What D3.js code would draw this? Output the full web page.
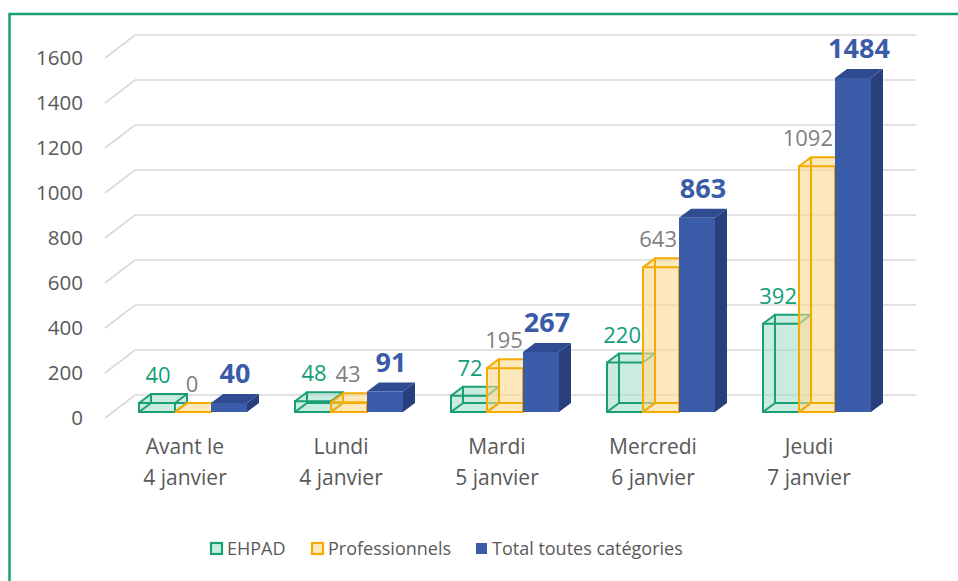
<!DOCTYPE html>
<html>
<head>
<meta charset="utf-8">
<script src="https://cdn.jsdelivr.net/npm/d3@7"></script>
<style>
  body { margin: 0; background: #fff; }
  svg { display: block; font-family: "Open Sans", "Noto Sans", sans-serif; }
</style>
</head>
<body>
<svg width="958" height="581"></svg>
<script>
// data
var categories = [["Avant le", "4 janvier"], ["Lundi", "4 janvier"], ["Mardi", "5 janvier"], ["Mercredi", "6 janvier"], ["Jeudi", "7 janvier"]];
var seriesNames = ["EHPAD", "Professionnels", "Total toutes catégories"];
var ehpad = [40, 48, 72, 220, 392];
var professionnels = [0, 43, 195, 643, 1092];
var total = [40, 91, 267, 863, 1484];
var yTicks = [0, 200, 400, 600, 800, 1000, 1200, 1400, 1600];

var values = [ehpad, professionnels, total];

var svg = d3.select("svg");

// outline of the frame (left + top only)
svg.append("path")
  .attr("d", "M9.5,581 L9.5,14 L958,14")
  .attr("fill", "none")
  .attr("stroke", "#17a078")
  .attr("stroke-width", 2.5);

// 3d projection helpers
var wallDx = 30, wallDy = -23;   // front plane -> back wall
var barDx = 12, barDy = -9;      // bar depth

var yFront = d3.scaleLinear().domain([0, 1600]).range([418, 58]); // axis plane
var yBar = d3.scaleLinear().domain([0, 1600]).range([412, 52]);   // bar front face

var x0 = d3.scaleBand().domain(d3.range(categories.length)).range([115, 895]);
var x1 = d3.scaleBand().domain(d3.range(seriesNames.length)).range([0, x0.bandwidth()]).paddingOuter(0.667);

// gridlines on back wall + diagonal on the left side
var grid = svg.append("g");
yTicks.forEach(function(t) {
  var yf = yFront(t);
  grid.append("path")
    .attr("d", "M105," + yf + " L" + (105 + wallDx) + "," + (yf + wallDy) + " L916," + (yf + wallDy))
    .attr("fill", "none")
    .attr("stroke", "#d9d9d9")
    .attr("stroke-width", 1.6);
});

// y axis labels
svg.append("g").selectAll("text")
  .data(yTicks).enter().append("text")
  .attr("x", 83)
  .attr("y", function(d) { return yFront(d); })
  .attr("dy", "0.36em")
  .attr("text-anchor", "end")
  .attr("font-size", "20.5px")
  .attr("fill", "#595959")
  .text(function(d) { return d; });

var styles = [
  { stroke: "#1a9e76", fill: "#9fdcc6", op: 0.55, solid: false, label: "#0f9e76" },
  { stroke: "#f5ab00", fill: "#fbd98f", op: 0.6, solid: false, label: "#7f7f7f" },
  { stroke: "#3a5ba8", fill: "#3a5ba8", op: 1, solid: true, label: "#3a5ba8" }
];

function pts(a) { return a.map(function(p) { return p.join(","); }).join(" "); }

var bars = svg.append("g");
categories.forEach(function(cat, ci) {
  seriesNames.forEach(function(sn, si) {
    var v = values[si][ci];
    var st = styles[si];
    var x = x0(ci) + x1(si), w = x1.bandwidth();
    var yt = yBar(v), yb = yBar(0);
    var g = bars.append("g");
    var front = [[x, yt], [x + w, yt], [x + w, yb], [x, yb]];
    var top = [[x, yt], [x + w, yt], [x + w + barDx, yt + barDy], [x + barDx, yt + barDy]];
    var side = [[x + w, yt], [x + w + barDx, yt + barDy], [x + w + barDx, yb + barDy], [x + w, yb]];
    if (st.solid) {
      g.append("polygon").attr("points", pts(side)).attr("fill", "#283f7c");
      g.append("polygon").attr("points", pts(top)).attr("fill", "#2f4c92");
      g.append("polygon").attr("points", pts(front)).attr("fill", "#3a5ca9");
    } else {
      var back = front.map(function(p) { return [p[0] + barDx, p[1] + barDy]; });
      g.append("polygon").attr("points", pts(front)).attr("fill", st.fill).attr("fill-opacity", st.op);
      g.append("polygon").attr("points", pts(top)).attr("fill", st.fill).attr("fill-opacity", st.op);
      g.append("polygon").attr("points", pts(side)).attr("fill", st.fill).attr("fill-opacity", st.op * 0.8);
      var edges = [];
      for (var k = 0; k < 4; k++) edges.push([front[k], back[k]]);
      g.append("polygon").attr("points", pts(back)).attr("fill", "none").attr("stroke", st.stroke).attr("stroke-width", 2);
      edges.forEach(function(e) {
        g.append("line").attr("x1", e[0][0]).attr("y1", e[0][1]).attr("x2", e[1][0]).attr("y2", e[1][1])
          .attr("stroke", st.stroke).attr("stroke-width", 2);
      });
      g.append("polygon").attr("points", pts(front)).attr("fill", "none").attr("stroke", st.stroke).attr("stroke-width", 2);
    }
  });
});

// data labels (nudged left if they would run into a taller bar next to them)
var labelShift = [1, -1, 6];
var labels = svg.append("g");
categories.forEach(function(cat, ci) {
  seriesNames.forEach(function(sn, si) {
    var v = values[si][ci];
    var x = x0(ci) + x1(si) + x1.bandwidth() / 2 + labelShift[si];
    var y = yBar(v) + barDy - 11;
    var t = labels.append("text")
      .attr("x", x)
      .attr("y", y)
      .attr("text-anchor", "middle")
      .attr("font-size", si == 2 ? "27px" : "22px")
      .attr("font-weight", si == 2 ? "bold" : "normal")
      .attr("fill", styles[si].label)
      .text(v);
    if (si < 2) {
      var nextX = x0(ci) + x1(si + 1);
      var half = t.node().getComputedTextLength() / 2;
      if (yBar(values[si + 1][ci]) < y && x + half > nextX - 2) {
        t.attr("x", nextX - 2 - half);
      }
    }
  });
});

// category labels
var catG = svg.append("g");
categories.forEach(function(cat, ci) {
  var cx = x0(ci) + x0.bandwidth() / 2 - 8;
  var t = catG.append("text")
    .attr("x", cx)
    .attr("y", 454)
    .attr("text-anchor", "middle")
    .attr("font-size", "21px")
    .attr("fill", "#595959");
  cat.forEach(function(line, li) {
    t.append("tspan").attr("x", cx).attr("dy", li == 0 ? 0 : 31).text(line);
  });
});

// legend
var legendX = [210, 311, 475];
var legend = svg.append("g");
seriesNames.forEach(function(sn, si) {
  var st = styles[si];
  legend.append("rect")
    .attr("x", legendX[si] + 1).attr("y", 543)
    .attr("width", 11).attr("height", 11)
    .attr("fill", si == 2 ? st.fill : (si == 0 ? "#c6eee0" : "#fde8bd"))
    .attr("stroke", st.stroke)
    .attr("stroke-width", si == 2 ? 0 : 2.2);
  legend.append("text")
    .attr("x", legendX[si] + 17).attr("y", 549)
    .attr("dy", "0.36em")
    .attr("font-size", "18px")
    .attr("fill", "#595959")
    .text(sn);
});
</script>
</body>
</html>
